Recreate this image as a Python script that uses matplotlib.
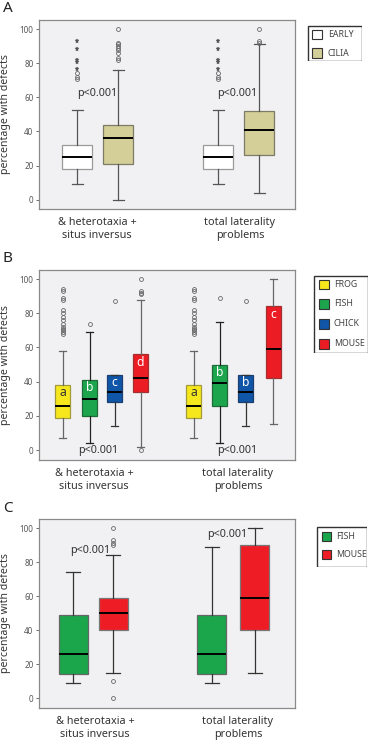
import numpy as np
import matplotlib
matplotlib.use('Agg')
import matplotlib.pyplot as plt
from matplotlib.patches import Rectangle

plt.rcParams['font.family'] = ['Noto Sans', 'DejaVu Sans']

#%% data
groups = ['& heterotaxia +\nsitus inversus', 'total laterality\nproblems']

# panel A: EARLY vs CILIA  [whislo, q1, med, q3, whishi]
a_series = ['EARLY', 'CILIA']
a_stats = {
    'EARLY': [[9, 18, 25, 32, 52.5], [9, 18, 25, 32, 52.5]],
    'CILIA': [[0, 21, 36, 44, 76], [4, 26, 41, 52, 91]],
}
a_circles = {
    'EARLY': [[74, 72, 70.5], [74, 72, 70.5]],
    'CILIA': [[100, 92, 91, 90, 89, 88, 86, 83, 82], [100, 93, 92]],
}
a_stars = {
    'EARLY': [[93, 88.5, 82, 80.5, 76.5], [93, 88.5, 82, 80.5, 76.5]],
    'CILIA': [[], []],
}

# panel B: species
b_series = ['FROG', 'FISH', 'CHICK', 'MOUSE']
b_stats = {
    'FROG': [[7, 19, 26, 38, 58], [7, 19, 26, 38, 58]],
    'FISH': [[4, 20, 30, 41, 69], [4, 26, 39, 50, 75]],
    'CHICK': [[14, 28, 34, 44, 44], [14, 28, 34, 44, 44]],
    'MOUSE': [[2, 34, 42, 56, 88], [15, 42, 59, 84, 100]],
}
frog_out = [94, 93, 89, 88, 82, 80, 78, 76, 74, 72, 71, 70, 69, 68]
b_circles = {
    'FROG': [frog_out, frog_out],
    'FISH': [[74], [89]],
    'CHICK': [[87], [87]],
    'MOUSE': [[100, 93, 92, 91, 0], []],
}
b_letters = {
    'FROG': ['a', 'a'],
    'FISH': ['b', 'b'],
    'CHICK': ['c', 'b'],
    'MOUSE': ['d', 'c'],
}

# panel C: fish vs mouse
c_series = ['FISH', 'MOUSE']
c_stats = {
    'FISH': [[9, 14, 26, 49, 74], [9, 14, 26, 49, 89]],
    'MOUSE': [[15, 40, 50, 59, 84], [15, 40, 59, 90, 100]],
}
c_circles = {
    'FISH': [[], []],
    'MOUSE': [[100, 93, 91, 90, 10, 0], []],
}

pval = 'p<0.001'

#%% styles
colors = {
    'EARLY': ('#ffffff', '#9a9a9a', '#555555'),
    'CILIA': ('#d4ce98', '#7d7a66', '#555555'),
    'FROG': ('#f6e71c', '#a39a3a', '#666666'),
    'FISH': ('#1ca54c', '#1d6b38', '#222222'),
    'CHICK': ('#0f55a8', '#1d3f70', '#333333'),
    'MOUSE': ('#ec1c24', '#a33030', '#666666'),
}
c_colors = {
    'FISH': ('#1ba64c', '#666666', '#333333'),
    'MOUSE': ('#ee1d25', '#777777', '#333333'),
}

W, H = 372, 750
fig = plt.figure(figsize=(W / 100, H / 100), dpi=100)
bg = '#f1f1f3'


def make_ax(top, bottom):
    ax = fig.add_axes([39 / W, 1 - bottom / H, 256 / W, (bottom - top) / H])
    ax.set_facecolor(bg)
    for s in ax.spines.values():
        s.set_color('#8a8a8a')
        s.set_linewidth(0.9)
    ax.set_xlim(0, 256)
    ax.set_yticks([0, 20, 40, 60, 80, 100])
    ax.tick_params(axis='y', labelsize=5.8, colors='#555555', length=2.5, width=0.6, pad=1.5)
    ax.tick_params(axis='x', length=0, labelsize=7.8, colors='#333333', pad=6)
    ax.set_ylabel('percentage with defects', fontsize=7.6, color='#333333', labelpad=6)
    return ax


def draw(ax, names, stats, circles, pos, width, cols, capw):
    for k, nm in enumerate(names):
        for g in range(2):
            lo, q1, med, q3, hi = stats[nm][g]
            fc, ec, wc = cols[nm]
            st = dict(whislo=lo, q1=q1, med=med, q3=q3, whishi=hi, fliers=circles[nm][g])
            ax.bxp([st], positions=[pos[g][k]], widths=width, patch_artist=True,
                   capwidths=capw, manage_ticks=False,
                   boxprops=dict(facecolor=fc, edgecolor=ec, linewidth=0.9),
                   medianprops=dict(color='black', linewidth=1.4),
                   whiskerprops=dict(color=wc, linewidth=0.9),
                   capprops=dict(color=wc, linewidth=0.9),
                   flierprops=dict(marker='o', markersize=2.8, markerfacecolor='none',
                                   markeredgecolor='#666666', markeredgewidth=0.6))


def legend(x0, y0, x1, y1, names, cols, ys, px, tx, size=9.5):
    lax = fig.add_axes([x0 / W, 1 - y1 / H, (x1 - x0) / W, (y1 - y0) / H])
    lax.set_xlim(0, x1 - x0)
    lax.set_ylim(y1 - y0, 0)
    lax.axis('off')
    lax.add_patch(Rectangle((0.5, 0.5), x1 - x0 - 1, y1 - y0 - 1, facecolor='white',
                            edgecolor='#333333', linewidth=1.0))
    for nm, cy in zip(names, ys):
        lax.add_patch(Rectangle((px, cy - size / 2), size, size, facecolor=cols[nm][0],
                                edgecolor='#333333', linewidth=0.8))
        lax.text(tx, cy, nm, fontsize=6.3, color='#444444', va='center', ha='left')


#%% panel A
ax = make_ax(20, 209)
ax.set_ylim(-5.4, 105.3)
posA = [[38, 79], [179, 220]]
draw(ax, a_series, a_stats, a_circles, posA, 30, colors, 11)
for k, nm in enumerate(a_series):
    for g in range(2):
        if a_stars[nm][g]:
            ax.plot([posA[g][k]] * len(a_stars[nm][g]), a_stars[nm][g], ls='none', marker='*',
                    markersize=3.6, color='#555555', markeredgewidth=0.3)
ax.set_xticks([58, 201])
ax.set_xticklabels(groups)
for x in [58, 198]:
    ax.text(x, 62, pval, fontsize=7.8, color='#333333', ha='center', va='center')
legend(307, 25, 362, 61, a_series, colors, [34.5 - 25, 53 - 25], 5, 21)
fig.text(3 / W, 1 - 9 / H, 'A', fontsize=11, color='#222222', va='center', ha='left')

#%% panel B
ax = make_ax(270, 460)
ax.set_ylim(-5.8, 105.3)
posB = [[23.5, 50.5, 75.5, 101.5], [154.5, 180.5, 206.5, 234]]
draw(ax, b_series, b_stats, b_circles, posB, 15, colors, 7)
for k, nm in enumerate(b_series):
    for g in range(2):
        q3 = b_stats[nm][g][3]
        tc = '#333333' if nm == 'FROG' else 'white'
        ax.text(posB[g][k], q3 - 4.5, b_letters[nm][g], fontsize=8.8, color=tc,
                ha='center', va='center')
ax.set_xticks([55, 199])
ax.set_xticklabels(groups)
for x in [59, 198]:
    ax.text(x, 0, pval, fontsize=7.8, color='#333333', ha='center', va='center')
legend(313, 275, 368, 353, b_series, colors, [9.7, 29, 49, 69], 6, 21)
fig.text(3 / W, 1 - 259 / H, 'B', fontsize=11, color='#222222', va='center', ha='left')

#%% panel C
ax = make_ax(519, 708)
ax.set_ylim(-5.8, 105.3)
posC = [[34.3, 74.3], [172.7, 215.7]]
draw(ax, c_series, c_stats, c_circles, posC, 29, c_colors, 14)
ax.set_xticks([56, 199])
ax.set_xticklabels(groups)
ax.text(51, 86.5, pval, fontsize=7.8, color='#333333', ha='center', va='center')
ax.text(188, 96, pval, fontsize=7.8, color='#333333', ha='center', va='center')
legend(316, 526, 367, 567, c_series, c_colors, [10.7, 28.3], 5.7, 20)
fig.text(3 / W, 1 - 509 / H, 'C', fontsize=11, color='#222222', va='center', ha='left')

fig.savefig('out.png', dpi=100, facecolor='white')
